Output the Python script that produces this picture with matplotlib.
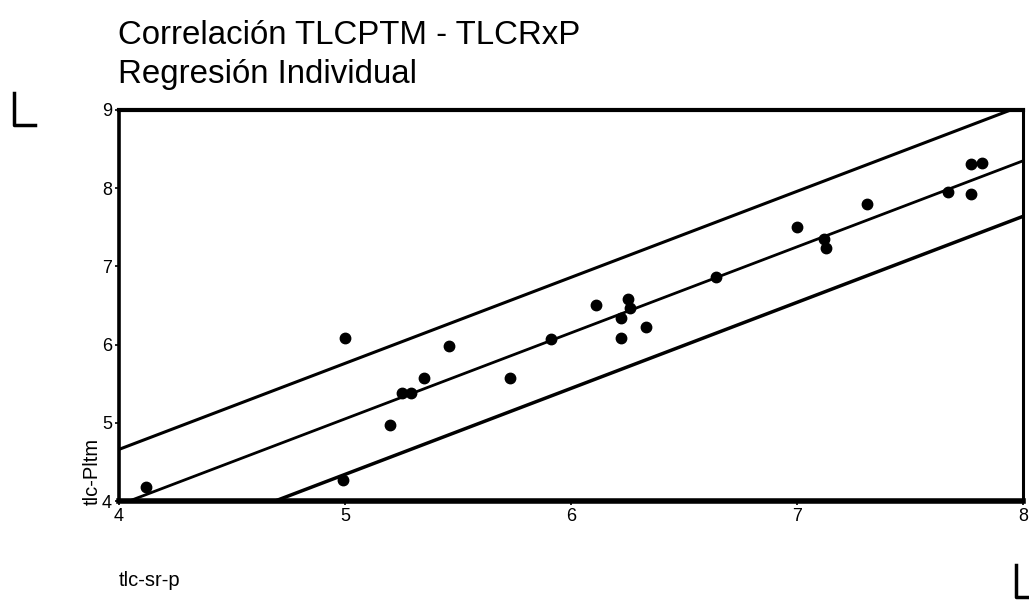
import numpy as np
import matplotlib
matplotlib.use("Agg")
import matplotlib.pyplot as plt
from matplotlib.lines import Line2D

plt.rcParams['font.family'] = ['Liberation Sans', 'DejaVu Sans']

# Observations: tlc-sr-p (x) vs tlc-Pltm (y)
tlc_sr_p = [4.12, 5.00, 4.99, 5.20, 5.25, 5.29, 5.35, 5.46, 5.73, 5.91,
            6.11, 6.25, 6.26, 6.22, 6.22, 6.33, 6.64, 7.00, 7.12, 7.13,
            7.31, 7.67, 7.77, 7.77, 7.82]
tlc_pltm = [4.18, 6.08, 4.27, 4.97, 5.38, 5.38, 5.57, 5.98, 5.57, 6.07,
            6.50, 6.58, 6.47, 6.34, 6.08, 6.22, 6.87, 7.50, 7.35, 7.24,
            7.80, 7.95, 7.93, 8.31, 8.32]

# Individual regression line and prediction band
fit_intercept = -0.45
fit_slope = 1.10
band_half_width = 0.71

x_ticks = [4, 5, 6, 7, 8]
y_ticks = [4, 5, 6, 7, 8, 9]

W, H = 1029, 600
fig = plt.figure(figsize=(W / 100, H / 100), dpi=100)
ax = fig.add_axes([119 / W, 1 - 501 / H, (1023 - 119) / W, (501 - 110) / H])

xs = np.array([4.0, 8.0])
fit = fit_intercept + fit_slope * xs
ax.plot(xs, fit, color='black', lw=2.0)
ax.plot(xs, fit + band_half_width, color='black', lw=2.2)
ax.plot(xs, fit - band_half_width, color='black', lw=2.5)
ax.plot(tlc_sr_p, tlc_pltm, 'o', color='black', ms=7.5, zorder=3)

ax.set_xlim(4, 8)
ax.set_ylim(4, 9)
ax.set_xticks(x_ticks)
ax.set_yticks(y_ticks)
ax.set_xticklabels([str(t) for t in x_ticks])
ax.set_yticklabels([str(t) for t in y_ticks])
ax.tick_params(direction='out', length=3, width=1.2, labelsize=13, pad=2)
for side, lw in (('top', 3.0), ('bottom', 4.0), ('left', 2.6), ('right', 2.2)):
    ax.spines[side].set_linewidth(lw)

fig.text(92 / W, 1 - 471 / H, 'tlc-Pltm', rotation=90, ha='center', va='center', fontsize=14.5)
fig.text(119 / W, 1 - 580 / H, 'tlc-sr-p', ha='left', va='center', fontsize=14.5)

fig.text(118 / W, 1 - 36 / H, 'Correlación TLCPTM - TLCRxP', ha='left', va='center', fontsize=23.8)
fig.text(118 / W, 1 - 75 / H, 'Regresión Individual', ha='left', va='center', fontsize=23.8)

# corner crop marks
for xdat, ydat in (([14, 14, 35], [93, 125, 125]), ([1016, 1016, 1029], [565, 597, 597])):
    fig.add_artist(Line2D([x / W for x in xdat], [1 - y / H for y in ydat],
                          color='black', lw=2.5, transform=fig.transFigure))

fig.savefig('out.png', dpi=100)
